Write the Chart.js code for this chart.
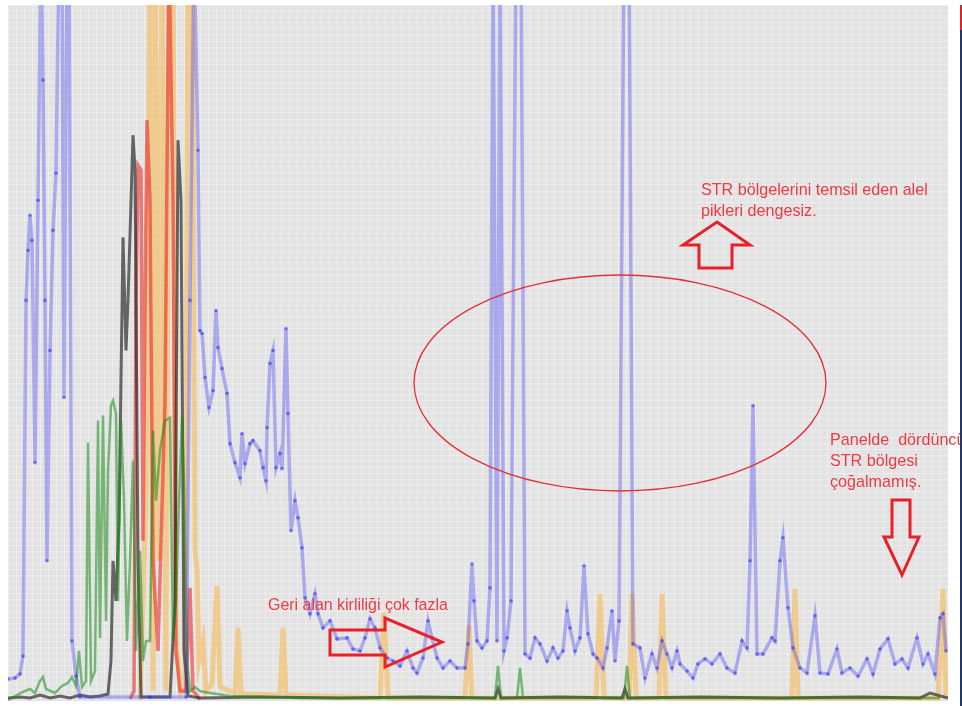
<!DOCTYPE html>
<html>
<head>
<meta charset="utf-8">
<script src="https://cdn.jsdelivr.net/npm/chart.js@4"></script>
<style>
  html, body { margin: 0; padding: 0; background: #ffffff; overflow: hidden; }
  #trace { display: block; }
</style>
</head>
<body>
<canvas id="trace" width="962" height="706"></canvas>
<script>
// scan position along the run, signal in RFU
const blueScan = [0,7,12,15,18,20,22,24,27,30,33,35,37,39,42,45,48,51,54,56,59,61,64,68,72,142,178,182,186,190,192,194,197,201,205,208,210,214,219,222,227,232,234,237,242,245,252,255,258,259,262,265,268,272,274,278,280,283,287,290,294,297,302,307,310,315,322,329,339,345,352,357,362,367,372,379,385,392,399,405,409,415,420,424,429,435,442,449,457,460,464,466,469,474,479,482,485,489,492,496,499,503,508,513,517,522,527,532,539,545,550,555,559,562,567,572,576,580,585,589,595,599,604,607,611,616,621,625,632,637,644,649,654,659,664,669,672,679,685,690,697,704,712,719,727,734,739,742,745,749,755,764,767,772,775,780,785,792,799,807,812,820,829,834,842,850,859,865,872,880,887,894,900,909,915,920,927,932,935,938];
const blueRfu = [220,230,270,450,4000,4500,4850,4600,2380,5000,7500,6200,4000,1400,3500,4700,5270,7500,7500,3030,7500,7500,600,250,40,40,40,4000,7500,5500,3700,3670,3230,2930,3100,3900,3530,3320,3070,2570,2380,2230,2670,2370,2570,2600,2500,2330,2200,2730,3370,3500,2330,2470,2320,3720,2870,1700,2000,1830,1530,1030,870,1070,870,730,800,620,630,520,500,630,820,730,530,430,400,350,500,330,280,430,800,630,430,330,400,330,330,570,1370,1000,600,530,600,1130,7500,600,7500,500,630,1000,7500,7500,470,430,630,570,400,530,430,500,900,730,500,630,1350,670,470,430,330,530,900,400,800,7500,7500,570,530,230,470,330,600,470,330,500,370,300,230,370,420,370,470,330,280,600,530,1400,2950,470,470,630,600,1400,1630,930,530,330,280,850,280,270,520,280,330,250,420,270,520,620,370,420,330,630,370,470,270,830,870,500];

const blackScan = [0,12,22,32,42,52,62,72,82,92,100,103,105,108,111,115,118,120,125,127,130,133,162,167,170,173,176,180,192,252,332,412,487,490,493,552,614,617,620,692,772,852,912,922,940];
const blackRfu = [30,40,30,60,30,50,30,60,40,50,70,400,1400,1000,1800,4630,3500,4000,5650,5300,1400,40,40,1000,5600,5000,500,50,30,40,30,40,30,120,30,40,30,120,30,40,30,40,30,80,30];

const redScan = [122,126,128,130,133,135,137,139,142,145,150,157,161,165,168,172,178,182,185,192];
const redRfu = [20,100,4000,5350,5300,1600,4000,5800,5000,1400,500,3000,7500,5000,500,100,100,1130,100,20];

const orangeScan = [132,138,142,145,147,151,154,158,161,165,168,173,177,180,184,187,189,191,195,198,204,209,212,227,230,233,272,275,278,372,376,380,457,461,464,588,592,596,621,624,628,651,654,658,784,787,790,930,935,938];
const orangeRfu = [10,2000,7500,100,7500,1400,7500,100,7500,7500,600,80,100,7500,7500,1500,1320,400,600,100,180,1150,140,80,730,70,60,730,60,30,880,30,30,750,30,30,1070,30,30,1070,30,30,1070,30,30,1120,30,30,1120,30];

const greenScan = [0,7,17,22,27,32,35,38,47,54,60,64,68,71,74,78,80,83,87,90,92,95,98,100,103,105,108,110,113,116,119,122,125,128,132,135,138,142,145,148,152,157,162,165,168,171,174,176,179,182,187,192,202,222,292,487,490,493,509,512,515,616,619,622,932];
const greenRfu = [10,50,100,120,80,200,240,120,80,150,180,240,150,500,140,200,2580,200,300,2800,630,2850,800,2300,2950,3000,2870,1000,2800,2000,600,1400,2400,500,1500,400,600,600,2700,2000,2500,2800,2830,600,1000,2000,2830,2200,400,100,140,100,80,50,30,30,350,30,30,330,30,30,350,30,30];

const scanMax = 940;
const rfuMax = 6950;

const noteUp = ["STR bölgelerini temsil eden alel", "pikleri dengesiz."];
const noteRight = ["Panelde  dördüncü", "STR bölgesi", "çoğalmamış."];
const noteLow = "Geri alan kirliliği çok fazla";

function pairs(xs, ys) {
  return xs.map((x, i) => ({ x: x, y: ys[i] }));
}

// plot background + callouts drawn on top
const plotBack = {
  id: "plotBack",
  beforeDraw(chart) {
    const { ctx, chartArea: a } = chart;
    ctx.save();
    ctx.fillStyle = "#e3e3e3";
    ctx.fillRect(a.left, a.top, a.right - a.left, a.bottom - a.top);
    ctx.restore();
  },
};

const callouts = {
  id: "callouts",
  afterDraw(chart) {
    const ctx = chart.ctx;
    const red = "#e8202a";
    ctx.save();

    // ellipse round the unbalanced peaks
    ctx.strokeStyle = "#e0313a";
    ctx.lineWidth = 1.3;
    ctx.beginPath();
    ctx.ellipse(620, 383, 206, 108, 0, 0, Math.PI * 2);
    ctx.stroke();

    // outlined block arrows
    ctx.strokeStyle = red;
    ctx.lineWidth = 3;
    ctx.lineJoin = "miter";
    const shapes = [
      [[717, 222], [750, 245], [732, 245], [732, 268], [699, 268], [699, 245], [683, 245]],
      [[892, 500], [910, 500], [910, 537], [919, 537], [902, 575], [884, 537], [892, 537]],
      [[330, 630], [385, 630], [385, 618], [442, 642], [385, 667], [385, 655], [330, 655]],
    ];
    shapes.forEach((pts) => {
      ctx.beginPath();
      pts.forEach((p, i) => (i ? ctx.lineTo(p[0], p[1]) : ctx.moveTo(p[0], p[1])));
      ctx.closePath();
      ctx.stroke();
    });

    // texts
    ctx.fillStyle = "#ee3a42";
    ctx.textBaseline = "alphabetic";
    ctx.font = "14px 'Liberation Sans', Arial, sans-serif";
    const w = ctx.measureText(noteUp[0]).width;
    const size = 14 * 227 / w;
    ctx.font = size.toFixed(2) + "px 'Liberation Sans', Arial, sans-serif";
    ctx.fillText(noteUp[0], 701, 195);
    ctx.fillText(noteUp[1], 701, 216);
    ctx.fillText(noteRight[0], 830, 445);
    ctx.fillText(noteRight[1], 830, 466);
    ctx.fillText(noteRight[2], 830, 487);

    ctx.font = "14px 'Liberation Sans', Arial, sans-serif";
    const w2 = ctx.measureText(noteLow).width;
    ctx.font = (14 * 180 / w2).toFixed(2) + "px 'Liberation Sans', Arial, sans-serif";
    ctx.fillText(noteLow, 268, 610);

    // window edge on the right
    ctx.lineWidth = 2;
    ctx.strokeStyle = "#d8262e";
    ctx.beginPath(); ctx.moveTo(961, 5); ctx.lineTo(961, 30); ctx.stroke();
    ctx.strokeStyle = "#1f3864";
    ctx.beginPath(); ctx.moveTo(961, 30); ctx.lineTo(961, 706); ctx.stroke();
    ctx.restore();
  },
};

const ctx = document.getElementById("trace");

new Chart(ctx, {
  type: "line",
  data: {
    datasets: [
      {
        label: "Blue",
        data: pairs(blueScan, blueRfu),
        borderColor: "rgba(70,70,245,0.38)",
        borderWidth: 3.5,
        pointRadius: 1.8,
        pointBorderWidth: 0,
        pointBackgroundColor: "rgba(30,30,240,0.5)",
        tension: 0,
      },
      {
        label: "Green",
        data: pairs(greenScan, greenRfu),
        borderColor: "rgba(25,140,25,0.55)",
        borderWidth: 2.5,
        pointRadius: 0,
        tension: 0,
      },
      {
        label: "Black",
        data: pairs(blackScan, blackRfu),
        borderColor: "rgba(30,30,30,0.65)",
        borderWidth: 3,
        pointRadius: 0,
        tension: 0,
      },
      {
        label: "Red",
        data: pairs(redScan, redRfu),
        borderColor: "rgba(235,30,30,0.55)",
        borderWidth: 3.5,
        pointRadius: 0,
        tension: 0,
      },
      {
        label: "Orange",
        data: pairs(orangeScan, orangeRfu),
        borderColor: "rgba(250,170,40,0.45)",
        borderWidth: 5,
        pointRadius: 0,
        tension: 0,
      },
    ],
  },
  options: {
    responsive: false,
    animation: false,
    devicePixelRatio: 1,
    layout: { padding: { left: 8, right: 14, top: 5, bottom: 5 } },
    plugins: {
      legend: { display: false },
      tooltip: { enabled: false },
    },
    scales: {
      x: {
        type: "linear",
        min: 0,
        max: scanMax,
        ticks: { display: false, count: 118 },
        grid: { color: "rgba(250,250,250,0.4)", drawTicks: false },
        border: { display: false },
      },
      y: {
        min: 0,
        max: rfuMax,
        ticks: { display: false, count: 117 },
        grid: { color: "rgba(250,250,250,0.4)", drawTicks: false },
        border: { display: false },
      },
    },
  },
  plugins: [plotBack, callouts],
});
</script>
</body>
</html>
